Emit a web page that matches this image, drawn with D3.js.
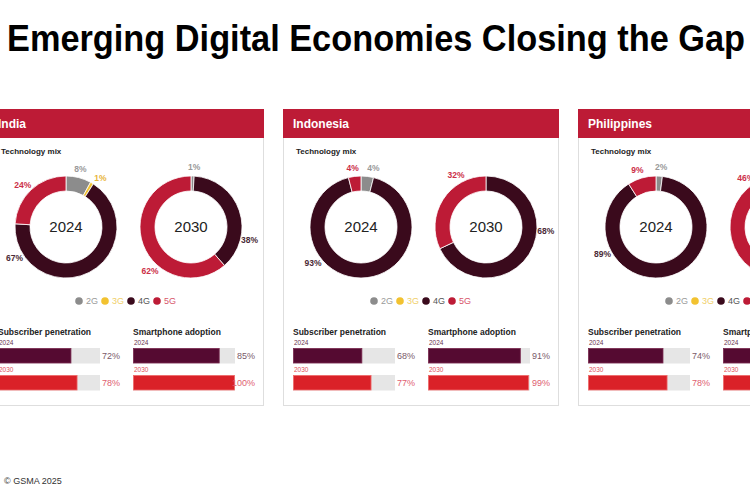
<!DOCTYPE html>
<html>
<head>
<meta charset="utf-8">
<script src="https://cdn.jsdelivr.net/npm/d3@7"></script>
<style>
  body { margin: 0; background: #fff; }
  svg { display: block; font-family: "Liberation Sans", Arial, sans-serif; }
</style>
</head>
<body>
<div id="chart"></div>
<script>
// chart values
const countries = ["India", "Indonesia", "Philippines"];
const techs = ["2G", "3G", "4G", "5G"];
const years = ["2024", "2030"];
const mix2024 = [[8, 1, 67, 24], [4, 0, 93, 4], [2, 0, 89, 9]];
const mix2030 = [[1, 0, 38, 62], [0, 0, 68, 32], [0, 0, 54, 46]];
const subscriber2024 = [72, 68, 74];
const subscriber2030 = [78, 77, 78];
const smartphone2024 = [85, 91, 80];
const smartphone2030 = [100, 99, 97];

// where each donut label sits (degrees clockwise from top), per country / year / tech
const labelAngles = {
  India: { "2024": [14, 35, 239, 314], "2030": [3, null, 103, 223] },
  Indonesia: { "2024": [12, null, 233, 352], "2030": [null, null, 94, 330] },
  Philippines: { "2024": [5, null, 243, 342], "2030": [null, null, 100, 324] }
};

const width = 750, height = 500;
const panelW = 275, panelStep = 295, panelX0 = -12;
const panelTop = 109, panelBottom = 405;

const techColor = d3.scaleOrdinal().domain(techs).range(["#8c8c8c", "#f2c230", "#3a0a1c", "#bd1b36"]);
const labelColor = d3.scaleOrdinal().domain(techs).range(["#9a9a9a", "#e8b53a", "#4a2a36", "#cc2f48"]);
const legendTextColor = d3.scaleOrdinal().domain(techs).range(["#9a9a9a", "#f0cf6a", "#555", "#d8566b"]);

const svg = d3.select("#chart").append("svg")
  .attr("width", width)
  .attr("height", height);

svg.append("text")
  .attr("x", 7)
  .attr("y", 51)
  .attr("textLength", 738)
  .attr("lengthAdjust", "spacingAndGlyphs")
  .style("font-size", "36px")
  .style("font-weight", "bold")
  .attr("fill", "#000")
  .text("Emerging Digital Economies Closing the Gap");

svg.append("text")
  .attr("x", 4)
  .attr("y", 484)
  .style("font-size", "9px")
  .attr("fill", "#333")
  .text("© GSMA 2025");

const panelX = d3.scaleLinear().domain([0, 1]).range([panelX0, panelX0 + panelStep]);
const donutX = d3.scalePoint().domain(years).range([78, 203]);
const donutY = 227;
const outerR = 51, innerR = 36, labelR = 60;

const pie = d3.pie().sort(null).value(d => d.value);
const arc = d3.arc().innerRadius(innerR).outerRadius(outerR);
const labelArc = d3.arc().innerRadius(labelR).outerRadius(labelR);

const legendX = d3.scalePoint().domain(techs).range([91, 169]);
const barX = d3.scaleLinear().domain([0, 100]).range([0, 102]);
const barGroups = [
  { title: "Subscriber penetration", x: 10, v24: subscriber2024, v30: subscriber2030 },
  { title: "Smartphone adoption", x: 145, v24: smartphone2024, v30: smartphone2030 }
];

countries.forEach((country, ci) => {
  const g = svg.append("g")
    .attr("transform", `translate(${panelX(ci)},0)`);

  g.append("rect")
    .attr("x", 0.5)
    .attr("y", panelTop + 0.5)
    .attr("width", panelW)
    .attr("height", panelBottom - panelTop)
    .attr("fill", "#fff")
    .attr("stroke", "#dedede");

  g.append("rect")
    .attr("x", 0)
    .attr("y", panelTop)
    .attr("width", panelW + 1)
    .attr("height", 29)
    .attr("fill", "#bd1b36");

  g.append("text")
    .attr("x", 10)
    .attr("y", 128)
    .style("font-size", "12px")
    .style("font-weight", "bold")
    .attr("fill", "#fff")
    .text(country);

  g.append("text")
    .attr("x", 13)
    .attr("y", 154)
    .style("font-size", "8px")
    .style("font-weight", "bold")
    .attr("fill", "#222")
    .text("Technology mix");

  // donuts
  [mix2024, mix2030].forEach((mix, yi) => {
    const year = years[yi];
    const vals = techs.map((t, ti) => ({ tech: t, value: mix[ci][ti], angle: labelAngles[country][year][ti] }));
    const dg = g.append("g")
      .attr("transform", `translate(${donutX(year)},${donutY})`);

    dg.selectAll("path")
      .data(pie(vals).filter(d => d.data.value > 0))
      .enter()
      .append("path")
      .attr("d", arc)
      .attr("fill", d => techColor(d.data.tech))
      .attr("stroke", "#fff")
      .attr("stroke-width", 0.8);

    dg.selectAll(".donut-label")
      .data(vals.filter(d => d.value > 0 && d.angle !== null))
      .enter()
      .append("text")
      .attr("class", "donut-label")
      .attr("transform", d => {
        const a = d.angle * Math.PI / 180;
        const c = labelArc.centroid({ startAngle: a, endAngle: a });
        return `translate(${c[0]},${c[1]})`;
      })
      .attr("text-anchor", "middle")
      .attr("dy", "0.35em")
      .style("font-size", "8.5px")
      .style("font-weight", "bold")
      .attr("fill", d => labelColor(d.tech))
      .text(d => d.value + "%");

    dg.append("text")
      .attr("text-anchor", "middle")
      .attr("dy", "0.36em")
      .style("font-size", "15px")
      .attr("fill", "#222")
      .text(year);
  });

  // legend
  const lg = g.selectAll(".legend")
    .data(techs)
    .enter()
    .append("g")
    .attr("class", "legend")
    .attr("transform", d => `translate(${legendX(d)},301)`);
  lg.append("circle")
    .attr("r", 3.8)
    .attr("fill", d => techColor(d));
  lg.append("text")
    .attr("x", 7)
    .attr("dy", "0.35em")
    .style("font-size", "9px")
    .attr("fill", d => legendTextColor(d))
    .text(d => d);

  // bars
  barGroups.forEach(bg => {
    const bgG = g.append("g").attr("transform", `translate(${bg.x},0)`);
    bgG.append("text")
      .attr("x", 0)
      .attr("y", 335)
      .style("font-size", "8.5px")
      .style("font-weight", "bold")
      .attr("fill", "#222")
      .text(bg.title);

    const rows = [
      { year: "2024", value: bg.v24[ci], y: 348, fill: "#550a31", stroke: "#7a2a50", yearColor: "#6a3550", valColor: "#7a5a6a" },
      { year: "2030", value: bg.v30[ci], y: 375, fill: "#da2128", stroke: "#f06a6a", yearColor: "#e0505a", valColor: "#e06070" }
    ];
    rows.forEach(r => {
      bgG.append("text")
        .attr("x", 1)
        .attr("y", r.y - 3)
        .style("font-size", "6.5px")
        .attr("fill", r.yearColor)
        .text(r.year);
      bgG.append("rect")
        .attr("x", 0)
        .attr("y", r.y)
        .attr("width", barX(100))
        .attr("height", 15.5)
        .attr("fill", "#e6e6e6");
      bgG.append("rect")
        .attr("x", 0.5)
        .attr("y", r.y + 0.5)
        .attr("width", barX(r.value) - 1)
        .attr("height", 14.5)
        .attr("fill", r.fill)
        .attr("stroke", r.stroke)
        .attr("stroke-width", 0.8);
      bgG.append("text")
        .attr("x", 122)
        .attr("y", r.y + 8)
        .attr("dy", "0.35em")
        .attr("text-anchor", "end")
        .style("font-size", "9px")
        .attr("fill", r.valColor)
        .text(r.value + "%");
    });
  });
});
</script>
</body>
</html>
